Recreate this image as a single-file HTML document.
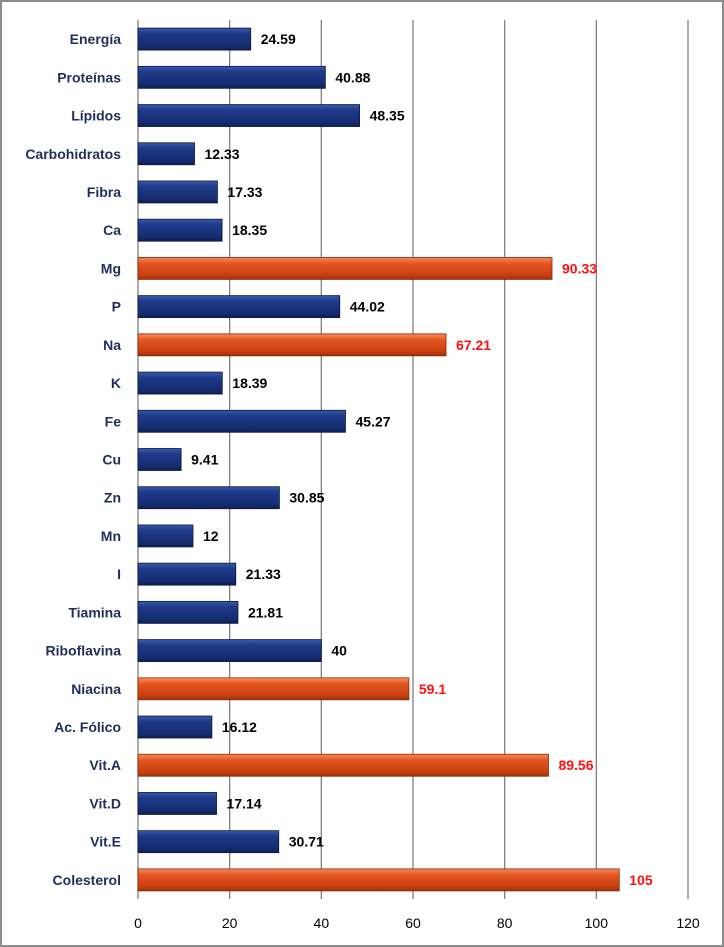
<!DOCTYPE html>
<html><head><meta charset="utf-8"><style>
html,body{margin:0;padding:0;background:#fff;}
svg{display:block;font-family:"Liberation Sans",sans-serif;}
</style></head><body>
<svg id="chart" width="724" height="947" viewBox="0 0 724 947">
<defs>
<linearGradient id="gb" x1="0" y1="0" x2="0" y2="1">
<stop offset="0" stop-color="#3a5aa8"/><stop offset="0.25" stop-color="#1f3a8a"/><stop offset="0.8" stop-color="#152c70"/><stop offset="1" stop-color="#0d1f55"/></linearGradient>
<linearGradient id="go" x1="0" y1="0" x2="0" y2="1">
<stop offset="0" stop-color="#f78a5a"/><stop offset="0.3" stop-color="#e2531f"/><stop offset="0.8" stop-color="#c8400f"/><stop offset="1" stop-color="#a33008"/></linearGradient>
</defs>
<rect x="1" y="1" width="722" height="945" fill="#fff" stroke="#8c8c8c" stroke-width="2"/>
<g id="grid"></g><g id="bars"></g><g id="labels"></g>
</svg>
<script>
const categories=["Energía","Proteínas","Lípidos","Carbohidratos","Fibra","Ca","Mg","P","Na","K","Fe","Cu","Zn","Mn","I","Tiamina","Riboflavina","Niacina","Ac. Fólico","Vit.A","Vit.D","Vit.E","Colesterol"];
const values=[24.59,40.88,48.35,12.33,17.33,18.35,90.33,44.02,67.21,18.39,45.27,9.41,30.85,12,21.33,21.81,40,59.1,16.12,89.56,17.14,30.71,105];
const highlighted=[false,false,false,false,false,false,true,false,true,false,false,false,false,false,false,false,false,true,false,true,false,false,true];
const ticks=[0,20,40,60,80,100,120];
const NS="http://www.w3.org/2000/svg";
const x0=138,x1=688,yTop=20,yBot=899,xMax=120;
const xs=v=>x0+(x1-x0)*v/xMax;
const band=(yBot-yTop)/categories.length;
const yc=i=>yTop+band*(i+0.5);
function mk(t,a,p){const e=document.createElementNS(NS,t);for(const k in a)e.setAttribute(k,a[k]);p.appendChild(e);return e;}
const grid=document.getElementById('grid'),bars=document.getElementById('bars'),labels=document.getElementById('labels');
ticks.forEach(t=>{
  if(t>0){const l=mk('line',{x1:xs(t),x2:xs(t),y1:yTop,y2:yBot,stroke:'#808080','stroke-width':1.3},grid);
  
  }
  const tx=mk('text',{x:xs(t),y:928,'text-anchor':'middle','font-size':14,fill:'#000'},labels);
  tx.textContent=t;
  
  
});
const ax=mk('line',{x1:x0,x2:x0,y1:yTop,y2:yBot,stroke:'#808080','stroke-width':1.3},grid);


categories.forEach((c,i)=>{
  const y=yc(i),h=22,hl=highlighted[i];
  const r=mk('rect',{x:x0,y:y-h/2,width:xs(values[i])-x0,height:h,fill:hl?'url(#go)':'url(#gb)',stroke:hl?'#8a2a05':'#0a1845','stroke-width':0.8},bars);
  
  
  const cl=mk('text',{x:121,y:y+5,'text-anchor':'end','font-size':14,'font-weight':'bold',fill:'#1f2f5c'},labels);
  cl.textContent=c;
  
  
  const vl=mk('text',{x:xs(values[i])+10,y:y+5,'font-size':14,'font-weight':'bold',fill:hl?'#ff1010':'#000'},labels);
  vl.textContent=values[i];
  
  
});
</script>
</body></html>
